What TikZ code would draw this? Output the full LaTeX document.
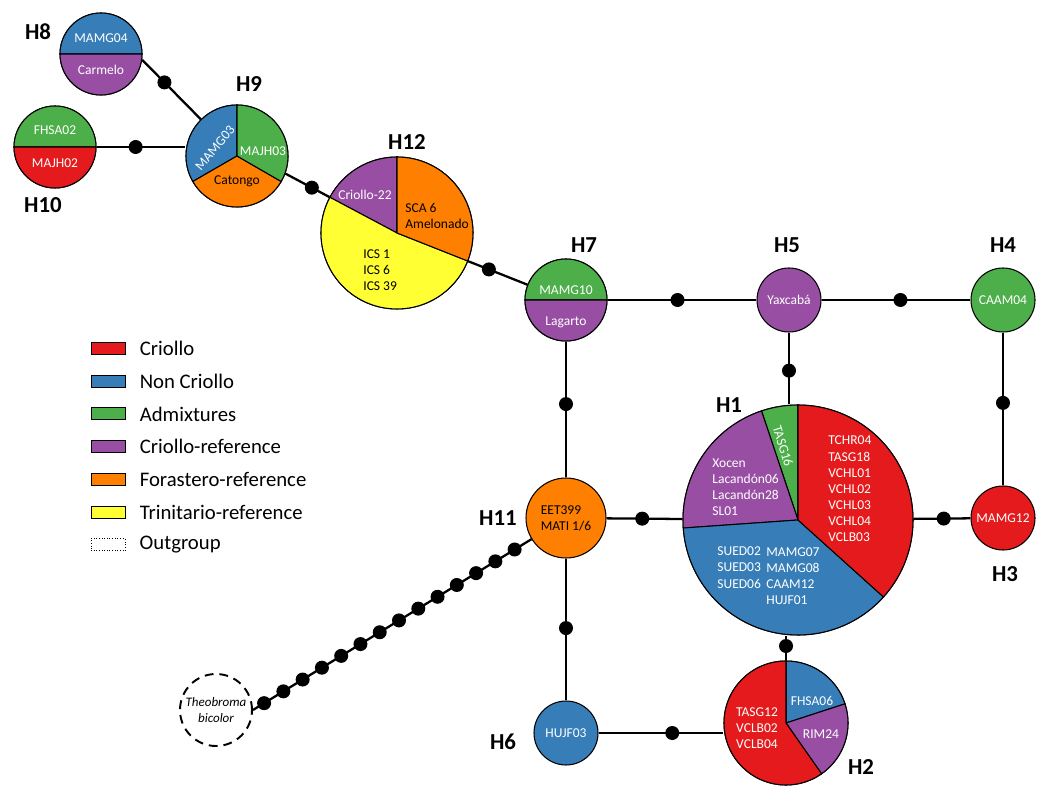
\documentclass[tikz,border=0pt]{standalone}
\usepackage{fontspec}
\setmainfont{Carlito}
\usepackage{tikz}
\usetikzlibrary{positioning}
\definecolor{crio}{HTML}{E41A1C}
\definecolor{noncrio}{HTML}{377EB8}
\definecolor{admix}{HTML}{4DAF4A}
\definecolor{crioref}{HTML}{984EA3}
\definecolor{forref}{HTML}{FF7F00}
\definecolor{trinref}{HTML}{FFFF33}

% centre, radius, start, end, colour
\newcommand{\pieslice}[5]{\filldraw[fill=#5, line width=0.6pt] (#1) -- ++(#3:#2) arc[start angle=#3, end angle=#4, radius=#2] -- cycle;}

\tikzset{
  hap/.style={circle, draw, line width=0.6pt, inner sep=0pt},
  lbl/.style={font=\fontsize{7.7}{9.2}\selectfont, text=white, inner sep=0pt, align=left},
  lblk/.style={lbl, text=black},
  hname/.style={font=\fontsize{13}{15}\selectfont\bfseries, inner sep=0pt},
  conn/.style={line width=1.3pt},
  mut/.style={circle, fill=black, inner sep=0pt, minimum size=2.8mm},
  legbox/.style={draw, line width=0.5pt, minimum width=6.8mm, minimum height=2.4mm, inner sep=0pt},
  legtext/.style={font=\fontsize{11.8}{13}\selectfont, inner sep=0pt}
}

\begin{document}
\begin{tikzpicture}[x=0.2mm, y=0.2mm]
    \useasboundingbox (0,0) rectangle (1042,786);

    % Haplotypes
    \node[hap, minimum size=16.4mm] (h8) at (101,732) {};
    \node[hap, minimum size=16.4mm] (h10) at (55,639) {};
    \node[hap, minimum size=20.4mm] (h9) at (237,630) {};
    \node[hap, minimum size=30.4mm] (h12) at (397,553) {};
    \node[hap, minimum size=16.4mm] (h7) at (566,486) {};
    \node[hap, fill=crioref, minimum size=12.8mm, lbl] (h5) at (789,486) {Yaxcabá};
    \node[hap, fill=admix, minimum size=12.8mm, lbl] (h4) at (1003,486) {CAAM04};
    \node[hap, minimum size=46mm] (h1) at (798,266) {};
    \node[hap, fill=crio, minimum size=12.8mm, lbl] (h3) at (1003,268) {MAMG12};
    \node[hap, fill=forref, minimum size=16mm, lblk] (h11) at (566,268) {EET399\\MATI 1/6};
    \node[hap, fill=noncrio, minimum size=12.8mm, lbl] (h6) at (566,53) {HUJF03};
    \node[hap, minimum size=24.8mm] (h2) at (786,63) {};
    \node[hap, dashed, dash pattern=on 5pt off 3.4pt, line width=1.1pt, minimum size=14.4mm, lblk, font=\fontsize{7.4}{9}\selectfont\itshape, align=center] (og) at (216,76) {Theobroma\\bicolor};

    % Pie slices
    \pieslice{h8.center}{41}{0}{180}{noncrio}
    \pieslice{h8.center}{41}{180}{360}{crioref}
    \pieslice{h10.center}{41}{0}{180}{admix}
    \pieslice{h10.center}{41}{180}{360}{crio}
    \pieslice{h9.center}{51}{90}{210}{noncrio}
    \pieslice{h9.center}{51}{210}{330}{forref}
    \pieslice{h9.center}{51}{-30}{90}{admix}
    \pieslice{h12.center}{76}{90}{152}{crioref}
    \pieslice{h12.center}{76}{152}{338.4}{trinref}
    \pieslice{h12.center}{76}{-21.6}{90}{forref}
    \pieslice{h7.center}{41}{0}{180}{admix}
    \pieslice{h7.center}{41}{180}{360}{crioref}
    \pieslice{h1.center}{115}{90}{108.5}{admix}
    \pieslice{h1.center}{115}{108.5}{184}{crioref}
    \pieslice{h1.center}{115}{184}{318}{noncrio}
    \pieslice{h1.center}{115}{-42}{90}{crio}
    \pieslice{h2.center}{62}{18}{90}{noncrio}
    \pieslice{h2.center}{62}{-55}{18}{crioref}
    \pieslice{h2.center}{62}{90}{305}{crio}

    % Slice texts
    \node[lbl] (t8a) at (101,748) {MAMG04};
    \node[lbl] (t8b) at (101,716) {Carmelo};
    \node[lbl] (t10a) at (55,656) {FHSA02};
    \node[lbl] (t10b) at (55,623) {MAJH02};
    \node[lbl, rotate=50] (t9a) at (215,638) {MAMG03};
    \node[lbl] (t9b) at (263,635) {MAJH03};
    \node[lblk] (t9c) at (237,605) {Catongo};
    \node[lbl] (t12a) at (365,591) {Criollo-22};
    \node[lblk, anchor=west] (t12b) at (405,570) {SCA 6\\Amelonado};
    \node[lblk, anchor=west] (t12c) at (363,516) {ICS 1\\ICS 6\\ICS 39};
    \node[lbl] (t7a) at (566,496) {MAMG10};
    \node[lbl] (t7b) at (566,464) {Lagarto};
    \node[lbl, anchor=west] (t1a) at (828,297) {TCHR04\\TASG18\\VCHL01\\VCHL02\\VCHL03\\VCHL04\\VCLB03};
    \node[lbl, anchor=west] (t1b) at (712,299) {Xocen\\Lacandón06\\Lacandón28\\SL01};
    \node[lbl, anchor=west] (t1c) at (717,218.5) {SUED02\\SUED03\\SUED06};
    \node[lbl, anchor=west] (t1d) at (766,210) {MAMG07\\MAMG08\\CAAM12\\HUJF01};
    \node[lbl, rotate=-73] (t1e) at (783,340) {TASG16};
    \node[lbl, align=center] (t2a) at (757,58) {TASG12\\VCLB02\\VCLB04};
    \node[lbl] (t2b) at (812,85) {FHSA06};
    \node[lbl] (t2c) at (821,52) {RIM24};

    % Haplotype names
    \node[hname] (n8) at (38,754) {H8};
    \node[hname] (n9) at (249,702) {H9};
    \node[hname] (n10) at (43,581) {H10};
    \node[hname] (n12) at (407,644) {H12};
    \node[hname] (n7) at (584,541) {H7};
    \node[hname] (n5) at (787,541) {H5};
    \node[hname] (n4) at (1003,541) {H4};
    \node[hname] (n1) at (729,381) {H1};
    \node[hname] (n3) at (1005,212) {H3};
    \node[hname] (n11) at (498,268) {H11};
    \node[hname] (n6) at (503,44) {H6};
    \node[hname] (n2) at (861,19) {H2};

    % Connectors with mutation steps
    \draw[conn] (h8.-8) -- node[mut, pos=0.38] (m1) {} (h9);
    \draw[conn] (h10) -- node[mut, pos=0.44] (m2) {} (h10 -| h9.west);
    \draw[conn] (h9.-20) -- node[mut, pos=0.6] (m3) {} (h12);
    \draw[conn] (h12) -- node[mut, pos=0.35] (m4) {} (h7);
    \draw[conn] (h7) -- node[mut, pos=0.47] (m5) {} (h5);
    \draw[conn] (h5) -- node[mut, pos=0.53] (m6) {} (h4);
    \draw[conn] (h7) -- node[mut, pos=0.46] (m7) {} (h11);
    \draw[conn] (h5) -- node[mut, pos=0.53] (m8) {} (h5 |- h1.north);
    \draw[conn] (h4) -- node[mut, pos=0.46] (m9) {} (h3);
    \draw[conn] (h11) -- node[mut, pos=0.47] (m10) {} (h1);
    \draw[conn] (h1) -- node[mut, pos=0.53] (m11) {} (h3);
    \draw[conn] (h11) -- node[mut, pos=0.49] (m12) {} (h6);
    \draw[conn] (h6) -- node[mut, pos=0.59] (m13) {} (h6 -| h2.west);
    \draw[conn] (h2.north) -- node[mut, pos=0.58] (m14) {} (h2 |- h1.south);
    \draw[conn] (og.east) -- (h11);
    \foreach \i [evaluate=\i as \p using 0.04+0.0692*\i] in {0,...,13}
        \path (og.east) -- (h11) node[mut, pos=\p] (c\i) {};

    % Legend
    \node[legbox, fill=crio] (lg1) at (108,437.5) {};
    \node[legbox, fill=noncrio] (lg2) at (108,404.8) {};
    \node[legbox, fill=admix] (lg3) at (108,372.1) {};
    \node[legbox, fill=crioref] (lg4) at (108,339.4) {};
    \node[legbox, fill=forref] (lg5) at (108,306.7) {};
    \node[legbox, fill=trinref] (lg6) at (108,274) {};
    \node[legbox, densely dotted, line width=0.4pt] (lg7) at (108,241.3) {};
    \node[legtext, right=2.8mm of lg1] (lt1) {Criollo};
    \node[legtext, right=2.8mm of lg2] (lt2) {Non Criollo};
    \node[legtext, right=2.8mm of lg3] (lt3) {Admixtures};
    \node[legtext, right=2.8mm of lg4] (lt4) {Criollo-reference};
    \node[legtext, right=2.8mm of lg5] (lt5) {Forastero-reference};
    \node[legtext, right=2.8mm of lg6] (lt6) {Trinitario-reference};
    \node[legtext, right=2.8mm of lg7] (lt7) {Outgroup};
\end{tikzpicture}
\end{document}
